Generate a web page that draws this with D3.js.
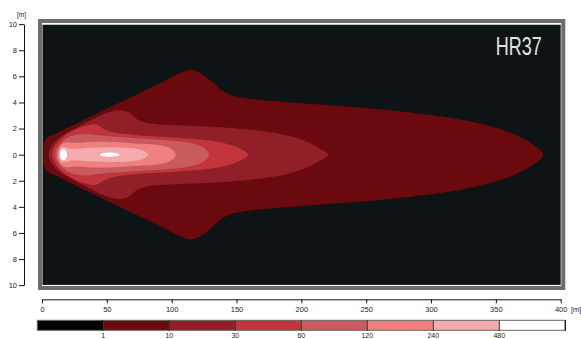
<!DOCTYPE html>
<html>
<head>
<meta charset="utf-8">
<script src="https://cdn.jsdelivr.net/npm/d3@7"></script>
<style>
  html, body { margin: 0; padding: 0; background: #ffffff; }
  svg { display: block; }
  text { font-family: "Liberation Sans", Arial, sans-serif; }
</style>
</head>
<body>
<svg id="chart" width="581" height="339"></svg>
<script>
// ---------- data ----------
const title = "HR37";
const xTicks = [0, 50, 100, 150, 200, 250, 300, 350, 400];
const yTicks = [-10, -8, -6, -4, -2, 0, 2, 4, 6, 8, 10];
const legendLabels = ["1", "10", "30", "60", "120", "240", "480"];
const legendColors = ["#000000", "#6b0a0e", "#911f27", "#c3353d", "#c95a5e", "#f08080", "#f5aaad", "#ffffff"];
const levels = [1, 10, 30, 60, 120, 240];

// upper half profiles of each isolux line [x m, half width m]; lines are symmetric about y = 0
const lux1 = [[1.0,0],[1.2,0.66],[2.6,1.12],[5.6,1.42],[8.5,1.53],[29.3,2.53],[60.2,4.02],[91.0,5.48],[106.4,6.25],[114.1,6.51],[121.8,6.28],[131.1,5.59],[139.6,4.86],[148.8,4.48],[160.4,4.29],[199.0,3.96],[276.1,3.32],[330.1,2.55],[360.9,1.69],[377.9,0.84],[386.6,0]];
const lux10 = [[5.0,0],[6.9,0.61],[12.3,1.23],[29.3,2.22],[44.7,2.99],[54.0,3.33],[60.2,3.41],[66.3,3.26],[74.0,2.68],[83.3,2.41],[96.4,2.30],[145.0,2.07],[183.5,1.61],[202.8,1.07],[212.8,0.54],[220.8,0]];
const lux30 = [[7.7,0],[9.6,0.61],[15.4,1.30],[25.4,1.92],[35.5,2.26],[41.6,2.34],[47.0,2.03],[54.0,1.76],[70.2,1.53],[108.7,1.28],[137.3,0.96],[151.1,0.54],[159.1,0]];
const lux60 = [[10.0,0],[11.6,0.50],[16.2,1.07],[23.1,1.46],[33.2,1.61],[44.7,1.49],[70.2,1.30],[108.7,1.00],[121.8,0.69],[127.2,0.34],[129.0,0]];
const lux120 = [[11.6,0],[12.7,0.46],[15.0,0.80],[18.5,0.96],[25.4,0.92],[44.7,1.00],[70.2,0.88],[91.0,0.73],[100.3,0.42],[103.3,0]];
const lux240 = [[12.7,0],[13.5,0.38],[15.4,0.61],[18.5,0.57],[23.1,0.46],[37.0,0.54],[60.2,0.57],[74.0,0.46],[79.4,0.27],[82.0,0]];
// lux 480 spots: [centre x m, centre y m, radius x m, radius y m]
const lux480 = [[16.6, 0.0, 2.9, 0.45], [52.2, 0.0, 7.7, 0.18]];

const profiles = [lux1, lux10, lux30, lux60, lux120, lux240];

// ---------- drawing ----------
const svg = d3.select("#chart");
const x = d3.scaleLinear().domain([0, 400]).range([42, 560.7]);
const y = d3.scaleLinear().domain([-10, 10]).range([285.15, 24.15]);
const colorOf = d3.scaleThreshold().domain([1, 10, 30, 60, 120, 240, 480]).range(legendColors);

svg.append("clipPath").attr("id", "plotclip")
  .append("rect").attr("x", x(0)).attr("y", y(10))
  .attr("width", x(400) - x(0)).attr("height", y(-10) - y(10));

svg.append("rect").attr("x", x(0)).attr("y", y(10))
  .attr("width", x(400) - x(0)).attr("height", y(-10) - y(10))
  .attr("fill", "#0e1315");

const g = svg.append("g").attr("clip-path", "url(#plotclip)");
const line = d3.line().x(d => x(d[0])).y(d => y(d[1])).curve(d3.curveCatmullRomClosed.alpha(0.5));

function closed(p) {
  const upper = p;
  const lower = p.slice(1, p.length - 1).reverse().map(d => [d[0], -d[1]]);
  return upper.concat(lower);
}

profiles.forEach((p, i) => {
  g.append("path")
    .attr("d", line(closed(p)))
    .attr("fill", colorOf(levels[i]))
    .attr("stroke", "rgba(0,0,0,0.12)")
    .attr("stroke-width", 0.5);
});

g.selectAll("ellipse.spot").data(lux480).enter().append("ellipse")
  .attr("class", "spot")
  .attr("cx", d => x(d[0])).attr("cy", d => y(d[1]))
  .attr("rx", d => x(d[2]) - x(0)).attr("ry", d => y(0) - y(d[3]))
  .attr("fill", colorOf(480))
  .attr("stroke", "rgba(0,0,0,0.15)").attr("stroke-width", 0.5);

// frame
svg.append("rect").attr("x", 42).attr("y", 24.2).attr("width", 519.6).attr("height", 261.2)
  .attr("fill", "none").attr("stroke", "#ffffff").attr("stroke-width", 1);
svg.append("rect").attr("x", 40).attr("y", 21).attr("width", 523.3).attr("height", 267)
  .attr("fill", "none").attr("stroke", "#6d6d6d").attr("stroke-width", 4);

// title
svg.append("text").attr("x", 541.7).attr("y", 55).attr("text-anchor", "end")
  .attr("font-family", "'Liberation Sans Narrow', 'DejaVu Sans Condensed', sans-serif")
  .attr("font-size", 25).attr("fill", "#e2e2e2")
  .attr("textLength", 46).attr("lengthAdjust", "spacingAndGlyphs")
  .text(title);

// x axis
const xAxis = svg.append("g").attr("transform", "translate(0,299.3)")
  .call(d3.axisBottom(x).tickValues(xTicks).tickSize(4).tickSizeOuter(0).tickPadding(3).tickFormat(d3.format("d")));
xAxis.selectAll("text").attr("font-size", 7.5).attr("fill", "#222").attr("font-family", "'Liberation Sans', Arial, sans-serif");
xAxis.selectAll("line, path").attr("stroke", "#111");
svg.append("text").attr("x", 571).attr("y", 311.6).attr("font-size", 7.5).attr("fill", "#222").text("[m]");

// y axis
const yAxis = svg.append("g").attr("transform", "translate(24,0)")
  .call(d3.axisLeft(y).tickValues(yTicks).tickSize(5).tickSizeOuter(0).tickPadding(2).tickFormat(d => Math.abs(d)));
yAxis.selectAll("text").attr("font-size", 7.5).attr("fill", "#222").attr("font-family", "'Liberation Sans', Arial, sans-serif");
yAxis.selectAll("line, path").attr("stroke", "#111");
svg.append("text").attr("x", 21.5).attr("y", 17).attr("text-anchor", "middle").attr("font-size", 6.5).attr("fill", "#222").text("[m]");

// legend
const lx = d3.scaleBand().domain(d3.range(legendColors.length)).range([37.3, 565.3]).padding(0);
const lg = svg.append("g");
lg.selectAll("rect.seg").data(legendColors).enter().append("rect")
  .attr("class", "seg")
  .attr("x", (d, i) => lx(i)).attr("y", 320.3)
  .attr("width", lx.bandwidth()).attr("height", 10)
  .attr("fill", d => d);
lg.append("rect").attr("x", 37.3).attr("y", 320.3).attr("width", 528).attr("height", 10)
  .attr("fill", "none").attr("stroke", "#666").attr("stroke-width", 1);
lg.selectAll("line.div").data(legendLabels).enter().append("line")
  .attr("class", "div")
  .attr("x1", (d, i) => lx(i + 1)).attr("x2", (d, i) => lx(i + 1))
  .attr("y1", 320.3).attr("y2", 331)
  .attr("stroke", "#333").attr("stroke-width", 1);
lg.append("line").attr("x1", 565.3).attr("x2", 565.3).attr("y1", 320.3).attr("y2", 331)
  .attr("stroke", "#111").attr("stroke-width", 1.2);
lg.selectAll("text.lab").data(legendLabels).enter().append("text")
  .attr("class", "lab")
  .attr("x", (d, i) => lx(i + 1)).attr("y", 338)
  .attr("text-anchor", "middle").attr("font-size", 7).attr("fill", "#222")
  .text(d => d);
</script>
</body>
</html>
